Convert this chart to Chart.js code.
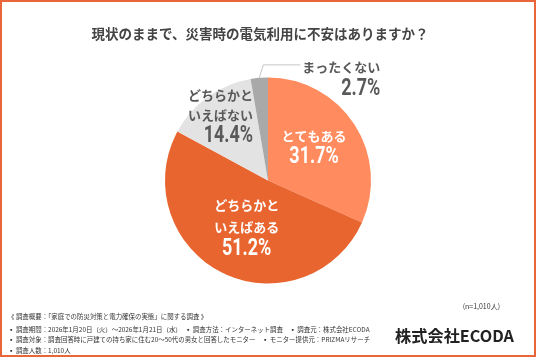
<!DOCTYPE html>
<html lang="ja">
<head>
<meta charset="utf-8">
<script src="https://cdn.jsdelivr.net/npm/chart.js@4.4.1/dist/chart.umd.min.js"></script>
<style>
  html, body { margin: 0; padding: 0; background: #fff; }
  #wrap { position: relative; width: 536px; height: 357px; overflow: hidden; font-family: "Noto Sans CJK JP", "Noto Sans", sans-serif; }
  #frame { position: absolute; left: 0; top: 0; width: 536px; height: 357px; box-sizing: border-box; border: 2px solid #E8663A; pointer-events: none; }
  canvas { position: absolute; left: 0; top: 0; }
  .t { position: absolute; white-space: nowrap; }
  #title { left: 0; width: 520px; text-align: center; top: 23px; font-size: 13.5px; font-weight: 700; color: #444; line-height: 20px; }
  .fn { left: 8px; font-size: 6.45px; color: #333; line-height: 9px; }
  #n { right: 36px; top: 301px; font-size: 7px; color: #333; line-height: 10px; }
  #brand { right: 22px; top: 325px; font-size: 16.2px; font-weight: 700; color: #222; line-height: 20px; }
</style>
</head>
<body>
<div id="wrap">
  <canvas id="c" width="536" height="357"></canvas>
  <div class="t" id="title">現状のままで、災害時の電気利用に不安はありますか？</div>
  <div class="t" id="n">(n=1,010人)</div>
  <div class="t fn" style="top:312px">《 調査概要：「家庭での防災対策と電力確保の実態」に関する調査 》</div>
  <div class="t fn" style="top:325px">▪ 調査期間：2026年1月20日（火）～2026年1月21日（水）　▪ 調査方法：インターネット調査　▪ 調査元：株式会社ECODA</div>
  <div class="t fn" style="top:335px">▪ 調査対象：調査回答時に戸建ての持ち家に住む20～50代の男女と回答したモニター　▪ モニター提供元：PRIZMAリサーチ</div>
  <div class="t fn" style="top:346px">▪ 調査人数：1,010人</div>
  <div class="t" id="brand">株式会社ECODA</div>
  <div id="frame"></div>
</div>
<script>
// ---- data ----
const categories = ["とてもある", "どちらかといえばある", "どちらかといえばない", "まったくない"];
const labelLines = [["とてもある"], ["どちらかと", "いえばある"], ["どちらかと", "いえばない"], ["まったくない"]];
const values = [31.7, 51.2, 14.4, 2.7];
const pctLabels = ["31.7%", "51.2%", "14.4%", "2.7%"];
const colors = ["#FF8B5E", "#E8652F", "#E3E3E3", "#A9A9A9"];

// label placement (code, not data)
const place = [
  { f: 0.55, dx: -1.5, dy: -3, align: "center", color: "#ffffff", gaps: [-10.5], pctDy: 11 },
  { f: 0.49, dx: 1, dy: 1, align: "center", color: "#ffffff", gaps: [-21.5, 0], pctDy: 22 },
  { f: 0.80, dx: 0, dy: 2, align: "right", color: "#595959", gaps: [-20.5, -0.5], pctDy: 21 },
  { outside: true, color: "#595959" }
];

const LABEL_FONT = "700 13px 'Noto Sans CJK JP', sans-serif";

function drawPct(ctx, txt, x, y, align) {
  ctx.save();
  ctx.font = "700 23px Roboto, 'Liberation Sans', sans-serif";
  const sx = 0.78;
  const w = ctx.measureText(txt).width * sx;
  let left;
  if (align === "right") left = x - w; else if (align === "left") left = x; else left = x - w / 2;
  ctx.translate(left, y);
  ctx.scale(sx, 1);
  ctx.textAlign = "left";
  ctx.textBaseline = "middle";
  ctx.fillText(txt, 0, 0);
  ctx.restore();
}

const labelPlugin = {
  id: "sliceLabels",
  afterDatasetsDraw(chart) {
    const ctx = chart.ctx;
    const meta = chart.getDatasetMeta(0);
    meta.data.forEach((arc, i) => {
      const p = place[i];
      const mid = (arc.startAngle + arc.endAngle) / 2;
      const r = arc.outerRadius;
      ctx.save();
      ctx.fillStyle = p.color;
      ctx.textBaseline = "middle";
      ctx.font = LABEL_FONT;
      if (p.outside) {
        const ex = arc.x + Math.cos(mid) * r;
        const ey = arc.y + Math.sin(mid) * r;
        const ky = ey - 13;
        ctx.strokeStyle = "#C4C4C4";
        ctx.lineWidth = 1;
        ctx.beginPath();
        ctx.moveTo(ex, ey);
        ctx.lineTo(ex + 4, ky);
        ctx.lineTo(ex + 41, ky);
        ctx.stroke();
        const rx = ex + 121;
        ctx.textAlign = "right";
        ctx.fillText(labelLines[i][0], rx, ky + 2);
        drawPct(ctx, pctLabels[i], rx, ky + 24.5, "right");
      } else {
        const ax = arc.x + Math.cos(mid) * r * p.f + p.dx;
        const ay = arc.y + Math.sin(mid) * r * p.f + p.dy;
        let tx = ax;
        if (p.align === "right") { tx = ax + 33; ctx.textAlign = "right"; }
        else ctx.textAlign = "center";
        labelLines[i].forEach((ln, k) => ctx.fillText(ln, tx, ay + p.gaps[k]));
        drawPct(ctx, pctLabels[i], tx, ay + p.pctDy, p.align);
      }
      ctx.restore();
    });
  }
};

new Chart(document.getElementById("c"), {
  type: "pie",
  data: {
    labels: categories,
    datasets: [{ data: values, backgroundColor: colors, borderWidth: 0 }]
  },
  options: {
    responsive: false,
    animation: false,
    layout: { padding: { top: 77.5, bottom: 73.5, left: 0, right: 0 } },
    plugins: { legend: { display: false }, tooltip: { enabled: false }, title: { display: false } }
  },
  plugins: [labelPlugin]
});
</script>
</body>
</html>
